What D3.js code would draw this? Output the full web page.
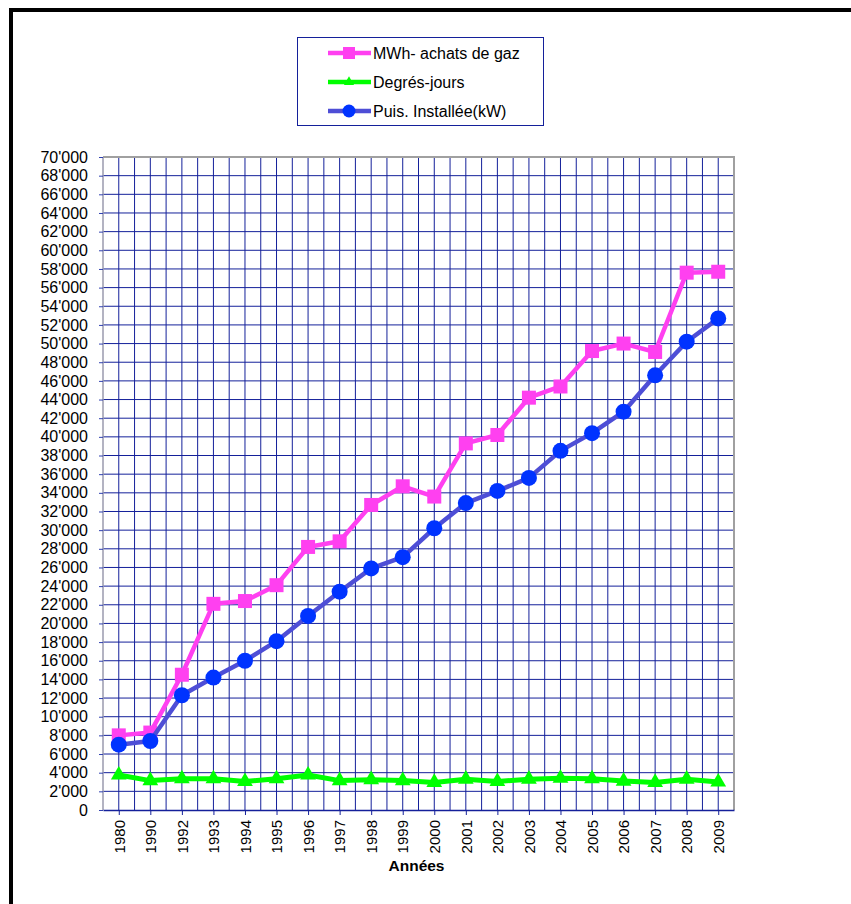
<!DOCTYPE html>
<html>
<head>
<meta charset="utf-8">
<script src="https://cdn.jsdelivr.net/npm/d3@7"></script>
<style>
  body { margin: 0; background: #fff; }
  text { font-family: "Liberation Sans", Arial, sans-serif; }
</style>
</head>
<body>
<svg width="851" height="904"></svg>
<script>
const years = ["1980", "1990", "1992", "1993", "1994", "1995", "1996", "1997", "1998", "1999",
  "2000", "2001", "2002", "2003", "2004", "2005", "2006", "2007", "2008", "2009"];
const gazMWh = [8000, 8300, 14500, 22100, 22400, 24100, 28200, 28800, 32700, 34700,
  33600, 39300, 40200, 44200, 45400, 49200, 50000, 49100, 57600, 57700];
const degresJours = [3750, 3150, 3350, 3350, 3050, 3350, 3750, 3150, 3250, 3150,
  2950, 3300, 3050, 3300, 3400, 3350, 3100, 2950, 3300, 3000];
const puissance = [7000, 7400, 12300, 14200, 16000, 18100, 20800, 23400, 25900, 27100,
  30200, 32900, 34200, 35600, 38500, 40400, 42700, 46600, 50200, 52700];
const yTicks = d3.range(0, 70001, 2000);

const series = [
  { name: "MWh- achats de gaz", values: gazMWh, line: "#ff40f0", fill: "#ff40f0", marker: "square" },
  { name: "Degrés-jours", values: degresJours, line: "#00ff00", fill: "#00ff00", marker: "triangle" },
  { name: "Puis. Installée(kW)", values: puissance, line: "#4e4ed6", fill: "#0033ff", marker: "circle" }
];

const svg = d3.select("svg");
const mLeft = 103, mRight = 734, mTop = 157, mBottom = 810;

// outer frame (only top + left visible)
svg.append("path")
  .attr("d", "M11,904 V10 H851")
  .attr("fill", "none").attr("stroke", "#000").attr("stroke-width", 4);

const x = d3.scalePoint().domain(years).range([mLeft, mRight]).padding(0.5);
const y = d3.scaleLinear().domain([0, 70000]).range([mBottom, mTop]);
const step = x.step();

const grid = svg.append("g").attr("stroke", "#14209a").attr("stroke-width", 1);
grid.selectAll("line.h").data(yTicks.slice(1)).enter().append("line")
  .attr("x1", mLeft).attr("x2", mRight).attr("y1", d => y(d)).attr("y2", d => y(d));
const vx = [];
years.forEach(c => { vx.push(x(c) - step / 2); vx.push(x(c)); });
grid.selectAll("line.v").data(vx.slice(1)).enter().append("line")
  .attr("y1", mTop).attr("y2", mBottom).attr("x1", d => d).attr("x2", d => d);

// plot border top + right in grey
svg.append("path")
  .attr("d", `M${mLeft},${mTop} H${mRight} V${mBottom}`)
  .attr("fill", "none").attr("stroke", "#a0a0a0").attr("stroke-width", 2);
svg.append("line").attr("x1", mLeft).attr("x2", mLeft).attr("y1", mTop).attr("y2", mBottom)
  .attr("stroke", "#9a9aae").attr("stroke-width", 1.5);

const fmt = d3.formatLocale({ decimal: ".", thousands: "'", grouping: [3], currency: ["", ""] }).format(",");

const yAxis = svg.append("g").attr("transform", `translate(${mLeft},0)`)
  .call(d3.axisLeft(y).tickValues(yTicks).tickFormat(fmt).tickSize(4).tickPadding(11));
yAxis.select(".domain").remove();
yAxis.selectAll("line").attr("stroke", "#3040b0");
yAxis.selectAll("text").attr("font-size", 16).attr("fill", "#000");

const xAxis = svg.append("g").attr("transform", `translate(0,${mBottom})`)
  .call(d3.axisBottom(x).tickSize(5).tickSizeOuter(0));
xAxis.select(".domain").attr("stroke", "#14209a").attr("stroke-width", 1.5);
xAxis.selectAll("line").attr("stroke", "#14209a");
xAxis.selectAll("text")
  .attr("font-size", 15).attr("fill", "#000")
  .attr("transform", "rotate(-90)")
  .attr("text-anchor", "end").attr("x", -10).attr("y", 0).attr("dy", "0.35em");

svg.append("text").attr("x", (mLeft + mRight) / 2 - 2).attr("y", 871)
  .attr("text-anchor", "middle").attr("font-size", 15.5).attr("font-weight", "bold")
  .text("Années");

function drawMarker(sel, s, size) {
  if (s.marker === "square") {
    sel.append("rect").attr("x", -size / 2).attr("y", -size / 2)
      .attr("width", size).attr("height", size).attr("fill", s.fill);
  } else if (s.marker === "circle") {
    sel.append("circle").attr("r", size / 2 + 1).attr("fill", s.fill);
  } else {
    sel.append("path").attr("d", d3.symbol(d3.symbolTriangle, size * size * 0.55)())
      .attr("fill", s.fill);
  }
}

const line = d3.line().x((d, i) => x(years[i])).y(d => y(d));
series.forEach(s => {
  svg.append("path").datum(s.values)
    .attr("d", line).attr("fill", "none")
    .attr("stroke", s.line).attr("stroke-width", s.marker === "triangle" ? 5 : 4.5)
    .attr("stroke-linejoin", "round");
  svg.append("g").selectAll("g").data(s.values).enter().append("g")
    .attr("transform", (d, i) => `translate(${x(years[i])},${y(d)})`)
    .each(function () { drawMarker(d3.select(this), s, 14); });
});

// legend
const lg = svg.append("g").attr("transform", "translate(297,37)");
lg.append("rect").attr("x", 0.5).attr("y", 0.5).attr("width", 246).attr("height", 88)
  .attr("fill", "#fff").attr("stroke", "#14209a").attr("stroke-width", 1);
series.forEach((s, i) => {
  const row = lg.append("g").attr("transform", `translate(0,${16 + i * 29})`);
  row.append("line").attr("x1", 31).attr("x2", 74).attr("y1", 0).attr("y2", 0)
    .attr("stroke", s.line).attr("stroke-width", 4.5);
  const m = row.append("g").attr("transform", "translate(52,0)");
  drawMarker(m, s, s.marker === "circle" ? 11 : s.marker === "square" ? 12 : 9);
  row.append("text").attr("x", 76).attr("y", 0).attr("dy", "0.35em")
    .attr("font-size", 16).attr("fill", "#000").text(s.name);
});
</script>
</body>
</html>
